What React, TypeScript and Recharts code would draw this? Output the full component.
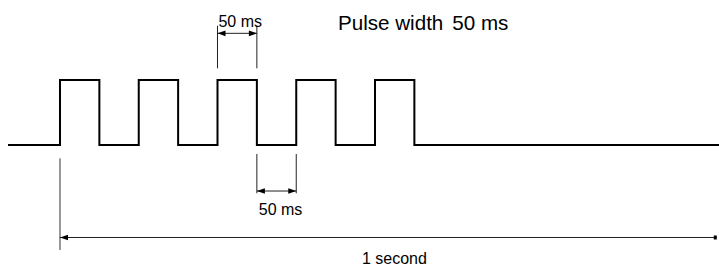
import { LineChart, Line, XAxis, YAxis, ReferenceLine } from 'recharts';

// times in ms, signal level 0 = low, 1 = high
const pulseStarts = [0, 100, 200, 300, 400];
const pulseWidth = 50;
const traceStart = -66;
const traceEnd = 837;
const oneSecondEnd = 834; // drawing is not to scale, the "1 second" span ends here

const dimLabels = ['50 ms', '50 ms', '1 second'];
const dimFrom = [200, 250, 0];
const dimTo = [250, 300, oneSecondEnd];

const FONT = "Arial, 'Liberation Sans', sans-serif";

// step trace built from the pulse list
const trace = [
  { t: traceStart, v: 0 },
  ...pulseStarts.flatMap((s) => [
    { t: s, v: 1 },
    { t: s + pulseWidth, v: 0 },
  ]),
  { t: traceEnd, v: 0 },
];

function arrowHead(x: number, y: number, dir: number, len = 8, half = 2.8) {
  return `${x},${y} ${x - dir * len},${y - half} ${x - dir * len},${y + half}`;
}

function Dim({ x1, y1, x2, label, textDx, textDy, rightTip }: any) {
  return (
    <g>
      <line x1={x1} y1={y1} x2={x2} y2={y1} stroke="#222" strokeWidth={1} />
      <polygon points={arrowHead(x1, y1, -1)} fill="#000" />
      {rightTip === 'square' ? (
        <rect x={x2 - 3} y={y1 - 2} width={3} height={4} fill="#000" />
      ) : (
        <polygon points={arrowHead(x2, y1, 1)} fill="#000" />
      )}
      <text
        x={(x1 + x2) / 2 + textDx}
        y={y1 + textDy}
        textAnchor="middle"
        fontFamily={FONT}
        fontSize={16}
        fill="#000"
      >
        {label}
      </text>
    </g>
  );
}

export default function App() {
  return (
    <div style={{ position: 'absolute', left: 0, top: 0, width: 719, height: 266, background: '#fff' }}>
      <LineChart width={719} height={266} data={trace} margin={{ top: 0, right: 0, bottom: 0, left: 0 }}>
        <XAxis type="number" dataKey="t" domain={[-76.19, 836.83]} allowDataOverflow hide />
        <YAxis type="number" domain={[-1.8615, 2.2308]} allowDataOverflow hide width={0} />

        {/* extension lines */}
        <ReferenceLine segment={[{ x: dimFrom[0], y: 1.18 }, { x: dimFrom[0], y: 1.835 }]} stroke="#222" strokeWidth={1} />
        <ReferenceLine segment={[{ x: dimTo[0], y: 1.18 }, { x: dimTo[0], y: 1.835 }]} stroke="#222" strokeWidth={1} />
        <ReferenceLine segment={[{ x: dimFrom[1], y: -0.138 }, { x: dimFrom[1], y: -0.743 }]} stroke="#222" strokeWidth={1} />
        <ReferenceLine segment={[{ x: dimTo[1], y: -0.138 }, { x: dimTo[1], y: -0.743 }]} stroke="#222" strokeWidth={1} />
        <ReferenceLine segment={[{ x: dimFrom[2], y: -0.205 }, { x: dimFrom[2], y: -1.615 }]} stroke="#333" strokeWidth={1} />

        {/* dimension arrows */}
        <ReferenceLine
          segment={[{ x: dimFrom[0], y: 1.718 }, { x: dimTo[0], y: 1.718 }]}
          shape={(p: any) => <Dim {...p} label={dimLabels[0]} textDx={3} textDy={-6} />}
        />
        <ReferenceLine
          segment={[{ x: dimFrom[1], y: -0.708 }, { x: dimTo[1], y: -0.708 }]}
          shape={(p: any) => <Dim {...p} label={dimLabels[1]} textDx={4} textDy={24} />}
        />
        <ReferenceLine
          segment={[{ x: dimFrom[2], y: -1.423 }, { x: dimTo[2], y: -1.423 }]}
          shape={(p: any) => <Dim {...p} label={dimLabels[2]} textDx={6} textDy={27} rightTip="square" />}
        />

        <Line
          type="stepAfter"
          dataKey="v"
          stroke="#000"
          strokeWidth={2}
          dot={false}
          activeDot={false}
          isAnimationActive={false}
        />
      </LineChart>
      <div
        style={{
          position: 'absolute',
          left: 338,
          top: 11,
          fontFamily: FONT,
          fontSize: 20.6,
          lineHeight: '24px',
          color: '#000',
          whiteSpace: 'pre',
        }}
      >
        <span>Pulse width</span>
        <span style={{ marginLeft: 9 }}>50 ms</span>
      </div>
    </div>
  );
}
